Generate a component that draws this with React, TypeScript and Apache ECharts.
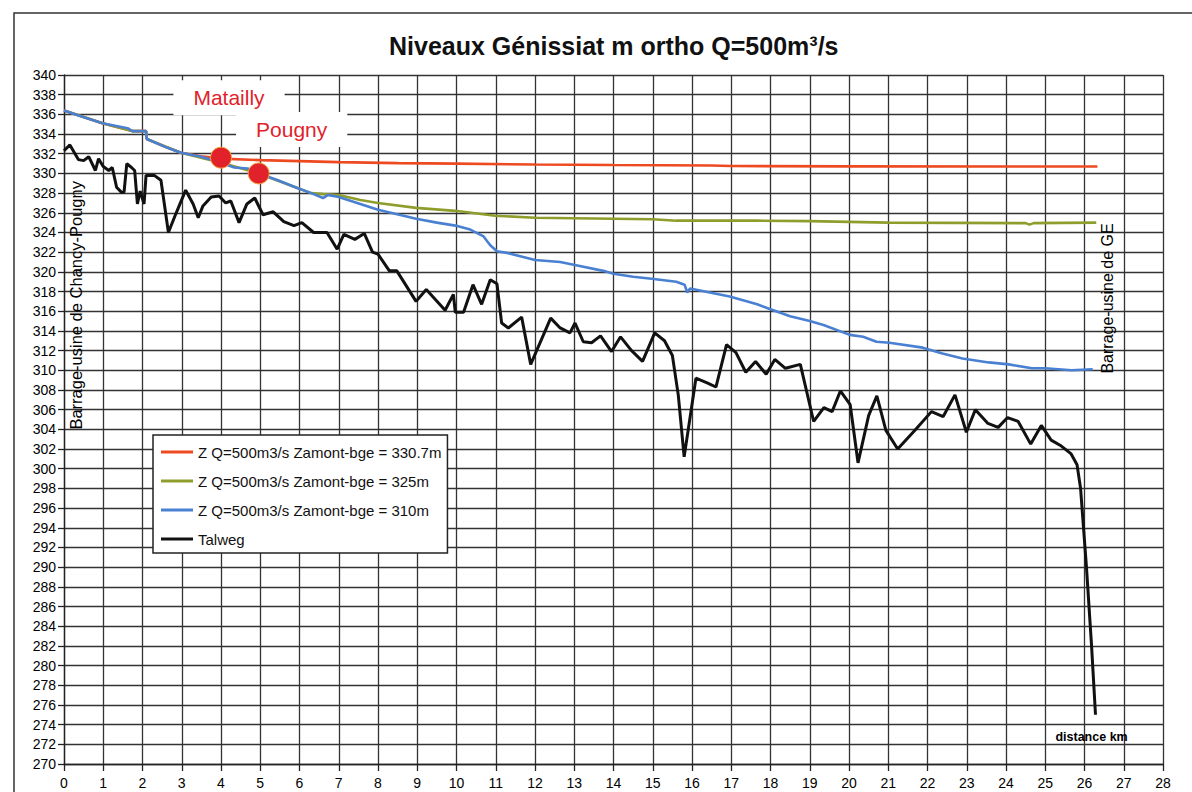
import React, { useEffect, useRef } from "react";
import * as echarts from "echarts";

// ---- Data (distance km, level m) ----
const seriesNames = [
  "Z Q=500m3/s Zamont-bge = 330.7m",
  "Z Q=500m3/s Zamont-bge = 325m",
  "Z Q=500m3/s Zamont-bge = 310m",
  "Talweg",
];

const z310: [number, number][] = [
  [0.0, 336.4], [0.43, 335.8], [0.98, 335.1], [1.62, 334.6], [1.74, 334.3], [2.09, 334.3],
  [2.11, 333.5], [2.64, 332.6], [2.98, 332.1], [3.49, 331.7], [3.9, 331.2], [4.34, 330.6],
  [4.68, 330.5], [4.96, 330.0], [5.45, 329.3], [5.96, 328.5], [6.3, 328.0], [6.6, 327.5],
  [6.72, 327.8], [7.0, 327.6], [7.55, 326.9], [8.0, 326.3], [8.65, 325.7], [8.97, 325.4],
  [9.5, 325.0], [9.97, 324.7], [10.35, 324.3], [10.69, 323.6], [10.86, 322.7], [11.03, 322.1],
  [11.32, 321.9], [12.0, 321.2], [12.64, 321.0], [13.14, 320.6], [13.74, 320.1], [14.0, 319.8],
  [14.5, 319.5], [14.97, 319.3], [15.6, 319.0], [15.81, 318.7], [15.88, 317.9], [15.95, 318.3],
  [16.96, 317.5], [17.66, 316.7], [18.0, 316.2], [18.5, 315.5], [19.0, 315.0], [19.35, 314.6],
  [20.02, 313.6], [20.36, 313.4], [20.7, 312.9], [21.03, 312.8], [21.88, 312.3], [22.38, 311.7],
  [22.89, 311.2], [23.56, 310.8], [24.07, 310.6], [24.66, 310.2], [25.0, 310.2], [25.67, 310.0],
  [26.21, 310.1],
];

const z325: [number, number][] = [
  [0.0, 336.4], [0.98, 335.1], [1.74, 334.3], [2.09, 334.3], [2.11, 333.5], [2.98, 332.1],
  [3.9, 331.2], [4.96, 330.0], [5.96, 328.5], [6.3, 328.0], [6.6, 327.9], [7.0, 327.8],
  [7.55, 327.3], [8.0, 327.0], [8.97, 326.5], [9.97, 326.2], [10.98, 325.7], [12.0, 325.5],
  [13.0, 325.45], [14.0, 325.4], [15.0, 325.35], [15.6, 325.2], [17.66, 325.2], [19.0, 325.15],
  [21.0, 325.0], [24.5, 324.95], [24.6, 324.8], [24.7, 324.95], [26.3, 325.0],
];

const z3307: [number, number][] = [
  [0.0, 336.4], [0.98, 335.1], [1.74, 334.3], [2.09, 334.3], [2.11, 333.5], [2.64, 332.6],
  [2.98, 332.1], [3.49, 331.75], [4.0, 331.5], [5.0, 331.35], [6.0, 331.25], [7.0, 331.15],
  [8.5, 331.05], [10.0, 331.0], [12.0, 330.9], [14.0, 330.85], [16.5, 330.8], [17.0, 330.75],
  [20.0, 330.72], [26.33, 330.7],
];

const talweg: [number, number][] = [
  [0.0, 332.3], [0.15, 332.9], [0.37, 331.4], [0.5, 331.3], [0.63, 331.7], [0.8, 330.3],
  [0.88, 331.5], [1.0, 330.7], [1.14, 330.3], [1.23, 330.6], [1.34, 328.6], [1.46, 328.1],
  [1.53, 328.1], [1.6, 331.0], [1.72, 330.6], [1.8, 330.3], [1.87, 326.9], [1.94, 328.2],
  [2.04, 326.9], [2.09, 329.8], [2.3, 329.8], [2.47, 329.3], [2.66, 324.0], [2.86, 326.0],
  [3.1, 328.3], [3.29, 326.9], [3.42, 325.5], [3.54, 326.7], [3.75, 327.6], [3.95, 327.7],
  [4.12, 327.0], [4.25, 327.2], [4.46, 325.0], [4.66, 326.9], [4.86, 327.5], [5.07, 325.8],
  [5.33, 326.1], [5.6, 325.1], [5.86, 324.7], [6.06, 325.0], [6.36, 324.0], [6.7, 324.0],
  [6.96, 322.3], [7.13, 323.8], [7.41, 323.3], [7.65, 323.9], [7.86, 322.0], [8.0, 321.8],
  [8.29, 320.1], [8.48, 320.1], [8.97, 317.0], [9.23, 318.2], [9.71, 316.1], [9.92, 317.7],
  [9.97, 315.9], [10.18, 315.9], [10.42, 318.7], [10.64, 316.7], [10.86, 319.2], [11.03, 318.8],
  [11.15, 314.8], [11.32, 314.3], [11.66, 315.4], [11.89, 310.6], [12.4, 315.3], [12.64, 314.3],
  [12.89, 313.8], [13.02, 314.8], [13.23, 312.9], [13.44, 312.8], [13.67, 313.5], [13.95, 311.9],
  [14.18, 313.4], [14.46, 312.0], [14.74, 310.9], [15.05, 313.8], [15.3, 313.0], [15.5, 311.5],
  [15.65, 307.5], [15.8, 301.2], [16.1, 309.2], [16.4, 308.7], [16.61, 308.3], [16.88, 312.6],
  [17.12, 311.8], [17.37, 309.8], [17.62, 310.9], [17.89, 309.6], [18.11, 311.1], [18.38, 310.2],
  [18.76, 310.6], [19.1, 304.8], [19.36, 306.2], [19.57, 305.8], [19.78, 307.9], [20.03, 306.5],
  [20.23, 300.6], [20.5, 305.4], [20.71, 307.4], [20.94, 303.9], [21.24, 302.0], [21.68, 303.9],
  [22.1, 305.8], [22.4, 305.3], [22.7, 307.5], [22.99, 303.7], [23.22, 306.0], [23.54, 304.6],
  [23.8, 304.2], [24.04, 305.2], [24.31, 304.8], [24.63, 302.5], [24.9, 304.4], [25.15, 302.9],
  [25.41, 302.3], [25.66, 301.5], [25.81, 300.4], [25.9, 298.0], [26.05, 290.0], [26.18, 282.0],
  [26.28, 275.0],
];

const placeNames = ["Matailly", "Pougny"];
const placePoints: [number, number][] = [[4.0, 331.6], [4.96, 330.0]];

const noteTexts = ["Barrage-usine de Chancy-Pougny", "Barrage-usine de GE", "distance km"];
const notePoints: [number, number][] = [[0.31, 316.6], [26.59, 317.3], [26.18, 272.7]];

const titleText = "Niveaux Génissiat m ortho Q=500m³/s";

const FONT = "'Liberation Sans', Arial, sans-serif";

export default function App() {
  const ref = useRef<HTMLDivElement>(null);

  useEffect(() => {
    if (!ref.current) return;
    const chart = echarts.init(ref.current, undefined, { renderer: "svg" });
    const colors = ["#ee4a22", "#8f9d2c", "#4a80d2", "#111111"];
    const lineData = [z3307, z325, z310, talweg];

    const labelOffsets: [number, number][] = [[8, -60], [33, -44]];
    const noteStyles = [
      { rotate: 90, fontSize: 16.5, fontWeight: "normal" },
      { rotate: 90, fontSize: 16, fontWeight: "normal" },
      { rotate: 0, fontSize: 12.5, fontWeight: "bold" },
    ];

    chart.setOption({
      animation: false,
      backgroundColor: "#ffffff",
      textStyle: { fontFamily: FONT },
      title: {
        text: titleText,
        left: 384,
        top: 28,
        textStyle: { fontSize: 25, fontWeight: "bold", color: "#111", fontFamily: FONT },
      },
      graphic: [
        {
          type: "rect",
          shape: { x: 14, y: 13, width: 1300, height: 900 },
          style: { fill: "none", stroke: "#333", lineWidth: 1.5 },
          silent: true,
          z: -1,
        },
      ],
      legend: {
        data: seriesNames,
        orient: "vertical",
        left: 153,
        top: 435,
        padding: [9, 6, 6, 8],
        itemGap: 13,
        itemWidth: 32,
        itemHeight: 3,
        icon: "rect",
        backgroundColor: "#ffffff",
        borderColor: "#222",
        borderWidth: 1.5,
        borderRadius: 0,
        textStyle: { fontSize: 15, color: "#111", fontFamily: FONT, lineHeight: 16 },
        z: 10,
      },
      grid: { left: 64, right: 29, top: 75, bottom: 28, containLabel: false },
      xAxis: {
        type: "value",
        min: 0,
        max: 28,
        interval: 1,
        axisLine: { show: true, lineStyle: { color: "#222", width: 1.3 } },
        axisTick: { show: true, length: 7, lineStyle: { color: "#222", width: 1.3 } },
        axisLabel: { fontSize: 14, color: "#000", margin: 12, fontFamily: FONT },
        splitLine: { show: true, lineStyle: { color: "#333", width: 1.3 } },
      },
      yAxis: {
        type: "value",
        min: 270,
        max: 340,
        interval: 2,
        axisLine: { show: true, lineStyle: { color: "#222", width: 1.3 } },
        axisTick: { show: true, length: 6, lineStyle: { color: "#222", width: 1.3 } },
        axisLabel: { fontSize: 14, color: "#000", margin: 8, fontFamily: FONT },
        splitLine: { show: true, lineStyle: { color: "#333", width: 1.3 } },
      },
      series: [
        ...seriesNames.map((name, i) => ({
          name,
          type: "line",
          data: lineData[i],
          symbol: "none",
          showSymbol: false,
          smooth: false,
          color: colors[i],
          lineStyle: { color: colors[i], width: i === 3 ? 3 : 2.6 },
          z: 3 + i,
        })),
        {
          name: "places",
          type: "scatter",
          symbol: "circle",
          symbolSize: 21,
          z: 10,
          itemStyle: { color: "#e1222b", borderColor: "#f4a23c", borderWidth: 1, opacity: 1 },
          data: placePoints.map((p, i) => ({
            value: p,
            name: placeNames[i],
            label: {
              show: true,
              formatter: placeNames[i],
              position: "inside",
              offset: labelOffsets[i],
              color: "#e1222b",
              opacity: 1,
              fontSize: 21,
              fontFamily: FONT,
              backgroundColor: "#ffffff",
              padding: [8, 20, 6, 20],
            },
          })),
        },
        {
          name: "notes",
          type: "scatter",
          symbolSize: 0,
          z: 9,
          silent: true,
          itemStyle: { opacity: 1 },
          data: notePoints.map((p, i) => ({
            value: p,
            label: {
              show: true,
              formatter: noteTexts[i],
              position: "inside",
              rotate: noteStyles[i].rotate,
              color: "#000",
              opacity: 1,
              fontSize: noteStyles[i].fontSize,
              fontWeight: noteStyles[i].fontWeight,
              fontFamily: FONT,
            },
          })),
        },
      ],
    });

    return () => chart.dispose();
  }, []);

  return (
    <div
      ref={ref}
      style={{ position: "fixed", left: 0, top: 0, width: 1192, height: 792, background: "#fff" }}
    />
  );
}
